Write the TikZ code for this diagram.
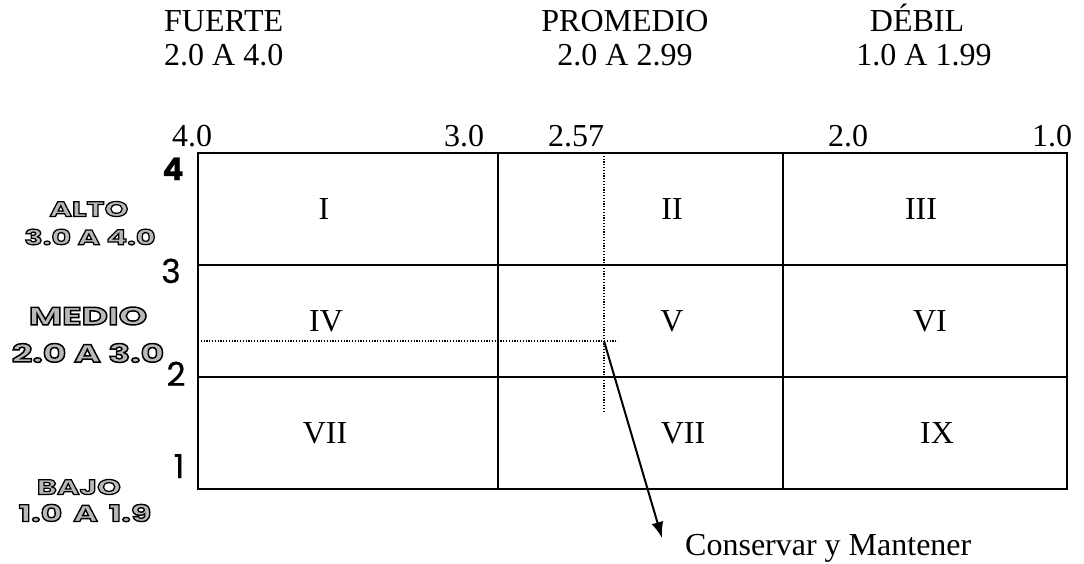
\documentclass[tikz,border=0pt]{standalone}
\usepackage{fontspec}
\setmainfont{Liberation Serif}
\newfontfamily\digitfont{Poppins}[FakeBold=0.6]
\newfontfamily\hollowfont{Poppins}[FakeStretch=1.45, FakeBold=6]
\usepackage{tikz}
\usetikzlibrary{arrows.meta, positioning}

% grey fill, black stroke (the fake bold strokes the glyphs)
\newcommand\hollow[1]{\textcolor{gray!55}{\special{pdf:literal direct 0 G}#1}}

\tikzset{
  headtext/.style = {inner sep=0pt, anchor=base, font=\fontsize{32}{36}\selectfont},
  celltext/.style = {inner sep=0pt, font=\fontsize{32}{36}\selectfont},
  rankdigit/.style = {inner sep=0pt, anchor=base, font=\digitfont\fontsize{33}{36}\selectfont},
  bandsmall/.style = {inner sep=0pt, font=\hollowfont\bfseries\fontsize{21}{22}\selectfont},
  bandbig/.style = {inner sep=0pt, font=\hollowfont\bfseries\fontsize{25}{26}\selectfont},
  gridline/.style = {line width=2pt},
  guide/.style = {line width=1.2pt, dash pattern=on 1.2pt off 1.6pt}
}

\begin{document}
\begin{tikzpicture}[x=1pt, y=-1pt]

\useasboundingbox (0,0) rectangle (1084,563);

% column headings
\node [headtext, anchor=base west] (fuerte)    at (164,31)  {FUERTE};
\node [headtext, anchor=base west] (fuerteR)   at (164,65)  {2.0 A 4.0};
\node [headtext                  ] (promedio)  at (625,31)  {PROMEDIO};
\node [headtext                  ] (promedioR) at (625,65)  {2.0 A 2.99};
\node [headtext                  ] (debil)     at (917,31)  {DÉBIL};
\node [headtext                  ] (debilR)    at (924,65)  {1.0 A 1.99};

% scale along the top
\node [headtext] (x40)  at (192,146)  {4.0};
\node [headtext] (x30)  at (464,146)  {3.0};
\node [headtext] (x257) at (576,146)  {2.57};
\node [headtext] (x20)  at (848,146)  {2.0};
\node [headtext] (x10)  at (1052,146) {1.0};

% scale down the left side
\node [rankdigit, font=\digitfont\bfseries\fontsize{31}{36}\selectfont] (y4) at (173,180) {4};
\node [rankdigit] (y3) at (171,283) {3};
\node [rankdigit] (y2) at (176,386) {2};
\node [rankdigit] (y1) at (179,478) {1};

\node [bandsmall] (alto)   at (89,209) {\hollow{ALTO}};
\node [bandsmall] (altoR)  at (90,237) {\hollow{3.0 A 4.0}};
\node [bandbig  ] (medio)  at (88,316) {\hollow{MEDIO}};
\node [bandbig  ] (medioR) at (88,353) {\hollow{2.0 A 3.0}};
\node [bandsmall] (bajo)   at (79,487) {\hollow{BAJO}};
\node [bandsmall, font=\hollowfont\bfseries\fontsize{23}{24}\selectfont]
      (bajoR)  at (85,513) {\hollow{1.0\hspace{11pt}A\hspace{11pt}1.9}};

% the nine cells
\draw [gridline] (198,153) rectangle (1067,489);
\draw [gridline] (498,153) -- (498,489);
\draw [gridline] (783,153) -- (783,489);
\draw [gridline] (198,265) -- (1067,265);
\draw [gridline] (198,377) -- (1067,377);

\node [celltext] (c1) at (324,209) {I};
\node [celltext] (c2) at (672,209) {II};
\node [celltext] (c3) at (921,209) {III};
\node [celltext] (c4) at (326,321) {IV};
\node [celltext] (c5) at (672,321) {V};
\node [celltext] (c6) at (930,321) {VI};
\node [celltext] (c7) at (325,433) {VII};
\node [celltext] (c8) at (683,433) {VII};
\node [celltext] (c9) at (937,433) {IX};

% position of the firm
\draw [guide] (604,153) -- (604,412);
\draw [guide] (198,341) -- (618,341);
\coordinate (spot) at (604,341);
\coordinate (tip)  at (662,538);

\node [headtext, anchor=base west] (conservar) at (685,555) {Conservar y Mantener};

\draw [line width=2pt, -{Latex[length=16pt, width=12pt]}] (spot) -- (tip);

\end{tikzpicture}
\end{document}
